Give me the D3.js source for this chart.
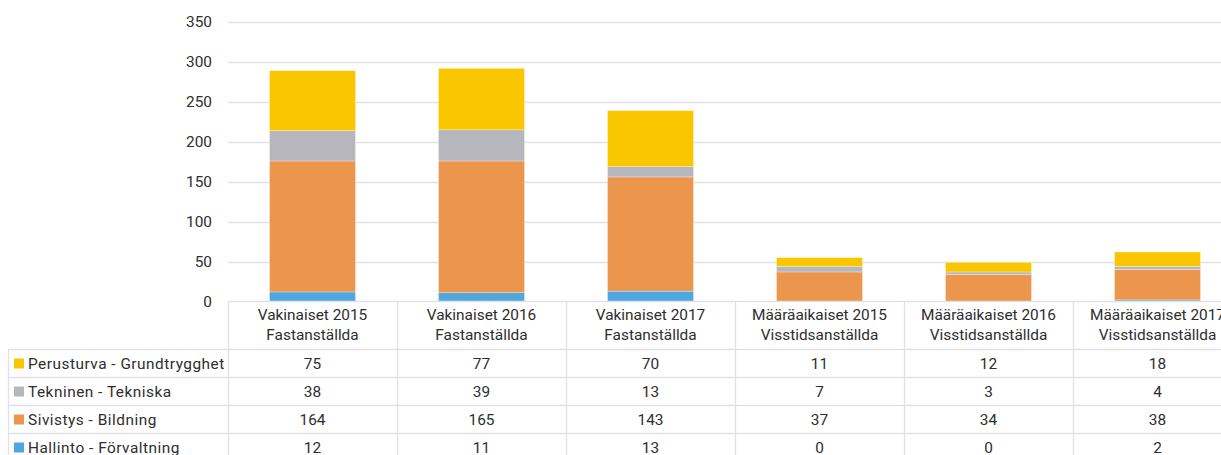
<!DOCTYPE html>
<html><head><meta charset="utf-8">
<script src="https://cdn.jsdelivr.net/npm/d3@7"></script>
<style>
html,body{margin:0;padding:0;background:#fff;}
svg{display:block;font-family:Roboto, sans-serif;}
</style></head>
<body><svg id="c" width="1221" height="455"></svg>
<script>
const categories = [
  ["Vakinaiset 2015","Fastanställda"],
  ["Vakinaiset 2016","Fastanställda"],
  ["Vakinaiset 2017","Fastanställda"],
  ["Määräaikaiset 2015","Visstidsanställda"],
  ["Määräaikaiset 2016","Visstidsanställda"],
  ["Määräaikaiset 2017","Visstidsanställda"]
];
const seriesNames = ["Hallinto - Förvaltning","Sivistys - Bildning","Tekninen - Tekniska","Perusturva - Grundtrygghet"];
const hallinto = [12,11,13,0,0,2];
const sivistys = [164,165,143,37,34,38];
const tekninen = [38,39,13,7,3,4];
const perusturva = [75,77,70,11,12,18];
const colors = ["#4ea7df","#ec954c","#b5b7bd","#f9c600"];
const yTicks = [0,50,100,150,200,250,300,350];

const seriesValues = [hallinto,sivistys,tekninen,perusturva];
const svg = d3.select("#c");
const plotL = 228, colW = 169, plotR = plotL + colW*categories.length;
const y0 = 301.5, yTop = 22;
const x = d3.scaleBand().domain(d3.range(categories.length)).range([plotL, plotR]).paddingInner(0).paddingOuter(0);
const y = d3.scaleLinear().domain([0,350]).range([y0, yTop]);
const textCol = "#2e2e2e";
const lineCol = "#e1e1e8";
const fs = 15.4;

// gridlines
svg.append("g").selectAll("line").data(yTicks.filter(d=>d>0)).join("line")
  .attr("x1", plotL).attr("x2", plotR).attr("y1", d=>Math.round(y(d))+0.5).attr("y2", d=>Math.round(y(d))+0.5)
  .attr("stroke", lineCol).attr("stroke-width", 1.3);

// y axis labels
const yAxis = d3.axisLeft(y).tickValues(yTicks).tickSize(0).tickPadding(16);
const ga = svg.append("g").attr("transform", `translate(${plotL},0)`).call(yAxis);
ga.select(".domain").remove();
ga.selectAll("text").attr("font-size", fs).attr("fill", textCol).attr("font-family","Roboto, sans-serif");

// stacked bars
const rows = categories.map((c,i)=>{const o={i}; seriesNames.forEach((s,k)=>o[s]=seriesValues[k][i]); return o;});
const stack = d3.stack().keys(seriesNames)(rows);
const bw = 86;
svg.append("g").selectAll("g").data(stack).join("g").attr("fill",(d,k)=>colors[k])
  .selectAll("rect").data(d=>d).join("rect")
  .attr("x", d=>x(d.data.i)+x.bandwidth()/2-bw/2)
  .attr("width", bw)
  .attr("y", d=>y(d[1]))
  .attr("height", d=>y(d[0])-y(d[1]))
  .attr("stroke","#fff").attr("stroke-width",0.6).attr("stroke-opacity",0.5);

// data table
const tbl = svg.append("g");
const legL = 8, hdrTop = 301.5, hdrBot = 349.5, rowH = 28;
const order = [3,2,1,0];
tbl.append("line").attr("x1",plotL).attr("x2",plotR).attr("y1",hdrTop).attr("y2",hdrTop).attr("stroke",lineCol).attr("stroke-width",1.3);
for(let r=0;r<=order.length;r++){
  const yy = hdrBot + r*rowH;
  tbl.append("line").attr("x1",legL).attr("x2",plotR).attr("y1",yy).attr("y2",yy).attr("stroke",lineCol).attr("stroke-width",1.3);
}
d3.range(categories.length+1).forEach(i=>{
  tbl.append("line").attr("x1",plotL+i*colW+0.5).attr("x2",plotL+i*colW+0.5).attr("y1",hdrTop).attr("y2",hdrBot+rowH*order.length+10).attr("stroke",lineCol).attr("stroke-width",1.3);
});
tbl.append("line").attr("x1",legL+0.5).attr("x2",legL+0.5).attr("y1",hdrBot).attr("y2",hdrBot+rowH*order.length+10).attr("stroke",lineCol).attr("stroke-width",1.3);

// headers
categories.forEach((c,i)=>{
  const t = tbl.append("text").attr("x", x(i)+x.bandwidth()/2).attr("text-anchor","middle").attr("font-size",fs).attr("fill",textCol);
  t.append("tspan").attr("x", x(i)+x.bandwidth()/2).attr("y", 320).text(c[0]);
  t.append("tspan").attr("x", x(i)+x.bandwidth()/2).attr("y", 340).text(c[1]);
});
// rows
order.forEach((k,r)=>{
  const cy = hdrBot + r*rowH + rowH/2;
  tbl.append("rect").attr("x",14).attr("y",cy-5).attr("width",10).attr("height",10).attr("fill",colors[k]);
  tbl.append("text").attr("x",28).attr("y",cy+5.5).attr("font-size",fs).attr("letter-spacing",0.5).attr("fill",textCol).text(seriesNames[k]);
  seriesValues[k].forEach((v,i)=>{
    tbl.append("text").attr("x",x(i)+x.bandwidth()/2).attr("y",cy+5.5).attr("text-anchor","middle").attr("font-size",fs).attr("fill",textCol).text(v);
  });
});
</script></body></html>
